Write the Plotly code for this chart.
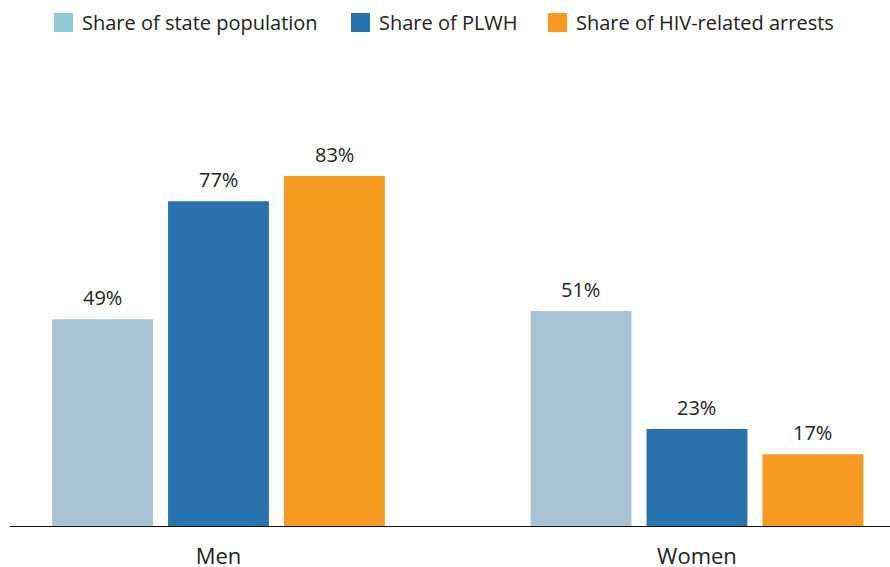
import plotly.graph_objects as go

categories = ["Men", "Women"]
series_names = ["Share of state population", "Share of PLWH", "Share of HIV-related arrests"]
state_pop = [49, 51]
plwh = [77, 23]
arrests = [83, 17]
series_values = [state_pop, plwh, arrests]
bar_colors = ["#a8c4d4", "#2873ae", "#f89a22"]
legend_colors = ["#8ecad6", "#2873ae", "#f89a22"]

FONT = "Open Sans"
fig = go.Figure()
for name, vals, col in zip(series_names, series_values, bar_colors):
    fig.add_trace(go.Bar(x=categories, y=vals, name=name, marker_color=col,
                         marker_line_width=0, showlegend=False, hoverinfo="skip"))

slot = 0.2424
annotations = []
for j, vals in enumerate(series_values):
    for i, v in enumerate(vals):
        annotations.append(dict(x=i + (j - 1) * slot, y=v, xref="x", yref="y",
                                text=f"{v}%", showarrow=False, yanchor="bottom",
                                yshift=6, font=dict(family=FONT, size=20, color="#222")))

# manual legend
leg_x = [54, 351, 548]
W, H = 890, 567
shapes = []
for lx, col, name in zip(leg_x, legend_colors, series_names):
    shapes.append(dict(type="rect", xref="paper", yref="paper",
                       x0=(lx - 10) / 880, x1=(lx + 19 - 10) / 880,
                       y0=(H - 41 - 32) / 466, y1=(H - 41 - 13) / 466,
                       fillcolor=col, line_width=0))
    annotations.append(dict(xref="paper", yref="paper", x=(lx + 26 - 10) / 880,
                            y=(H - 41 - 22.5) / 466, text=name, showarrow=False,
                            xanchor="left", yanchor="middle",
                            font=dict(family=FONT, size=20, color="#222")))

fig.update_layout(
    width=W, height=H,
    margin=dict(l=10, r=0, t=60, b=41, autoexpand=False),
    paper_bgcolor="white", plot_bgcolor="white",
    barmode="group", bargap=0.273, bargroupgap=0.13,
    annotations=annotations, shapes=shapes,
    font=dict(family=FONT, color="#222"),
    xaxis=dict(range=[-0.4357, 1.4034], showline=True, linecolor="#111", linewidth=1,
               ticks="", ticklabelstandoff=11, automargin=False,
               tickfont=dict(family=FONT, size=22, color="#222"),
               showgrid=False, zeroline=False),
    yaxis=dict(range=[0, 110.5], visible=False, showgrid=False, zeroline=False,
               automargin=False),
)

fig.write_html("out.html", config={"displayModeBar": False},
               post_script="document.body.style.margin='0';document.body.style.overflow='hidden';")
